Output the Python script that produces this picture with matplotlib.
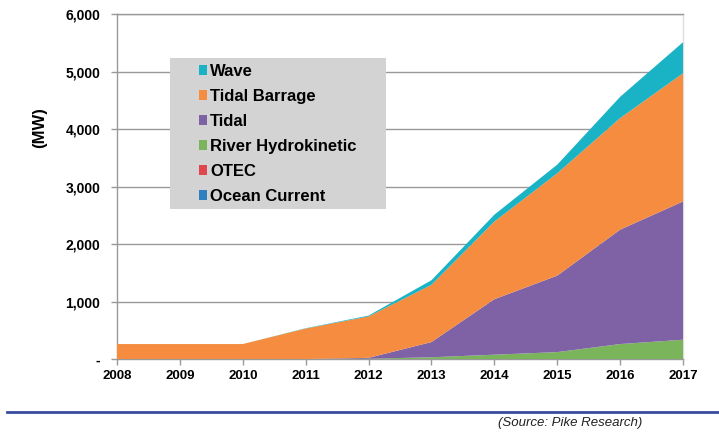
import numpy as np
import matplotlib.pyplot as plt
from matplotlib.patches import Rectangle, Patch

plt.rcParams['font.family'] = ['Liberation Sans', 'DejaVu Sans']

# Installed capacity by technology (MW)
years = [2008, 2009, 2010, 2011, 2012, 2013, 2014, 2015, 2016, 2017]
ocean_current = [0, 0, 0, 0, 0, 0, 0, 0, 0, 0]
otec = [0, 0, 0, 0, 0, 0, 0, 0, 0, 0]
river = [0, 0, 0, 0, 5, 30, 75, 120, 260, 335]
tidal = [0, 0, 0, 0, 15, 265, 965, 1330, 1990, 2405]
tidal_barrage = [260, 260, 260, 530, 720, 995, 1350, 1780, 1940, 2230]
wave = [0, 0, 0, 5, 15, 80, 120, 150, 370, 540]

labels = ['Ocean Current', 'OTEC', 'River Hydrokinetic', 'Tidal', 'Tidal Barrage', 'Wave']
colors = ['#2f7fc1', '#e0474c', '#7ab55c', '#7f62a6', '#f58c3f', '#1ab3c5']

fig = plt.figure(figsize=(7.19, 4.34), dpi=100)
ax = fig.add_axes([0.1627, 0.1728, 0.7873, 0.7949])

ax.stackplot(years, ocean_current, otec, river, tidal, tidal_barrage, wave,
             colors=colors, linewidth=0, zorder=3)

ax.set_xlim(2008, 2017)
ax.set_ylim(0, 6000)
ax.set_xticks(years)
ax.set_xticklabels([str(y) for y in years], fontsize=9.5, fontweight='bold')
yt = [0, 1000, 2000, 3000, 4000, 5000, 6000]
ax.set_yticks(yt)
ax.set_yticklabels(['-'] + [f'{v:,}' for v in yt[1:]], fontsize=10, fontweight='bold')
ax.tick_params(axis='both', length=4, width=1, color='#999999')
ax.tick_params(axis='x', pad=4)
ax.tick_params(axis='y', pad=8)

ax.set_axisbelow(True)
ax.grid(axis='y', color='#999999', linewidth=1)
for side in ['left', 'bottom', 'right', 'top']:
    ax.spines[side].set_color('#999999')
    ax.spines[side].set_linewidth(1)
ax.spines['right'].set_color('#dddddd')

# grey legend panel
ax.add_patch(Rectangle((0.0936, 0.435), 0.381, 0.437, transform=ax.transAxes,
                       facecolor='#d3d3d3', edgecolor='none', zorder=4))
handles = [Patch(facecolor=c, edgecolor='none') for c in colors][::-1]
leg = ax.legend(handles, labels[::-1], loc='upper left', bbox_to_anchor=(0.145, 0.856),
                frameon=False, borderpad=0, borderaxespad=0, handlelength=0.5,
                handleheight=0.5, handletextpad=0.15, labelspacing=0.6,
                prop={'size': 12, 'weight': 'bold'})
leg.set_zorder(5)

fig.text(40 / 719, 1 - 128 / 434, '(MW)', rotation=90, fontsize=12, fontweight='bold',
         ha='center', va='center')

# footer rule and source note
fig.add_artist(plt.Line2D([7 / 719, 1.0], [1 - 412 / 434, 1 - 412 / 434],
                          color='#3a4ba0', linewidth=2))
fig.text(570 / 719, 1 - 423 / 434, '(Source: Pike Research)', fontsize=9.5, style='italic',
         ha='center', va='center', color='#222222')

fig.savefig('out.png', dpi=100)
